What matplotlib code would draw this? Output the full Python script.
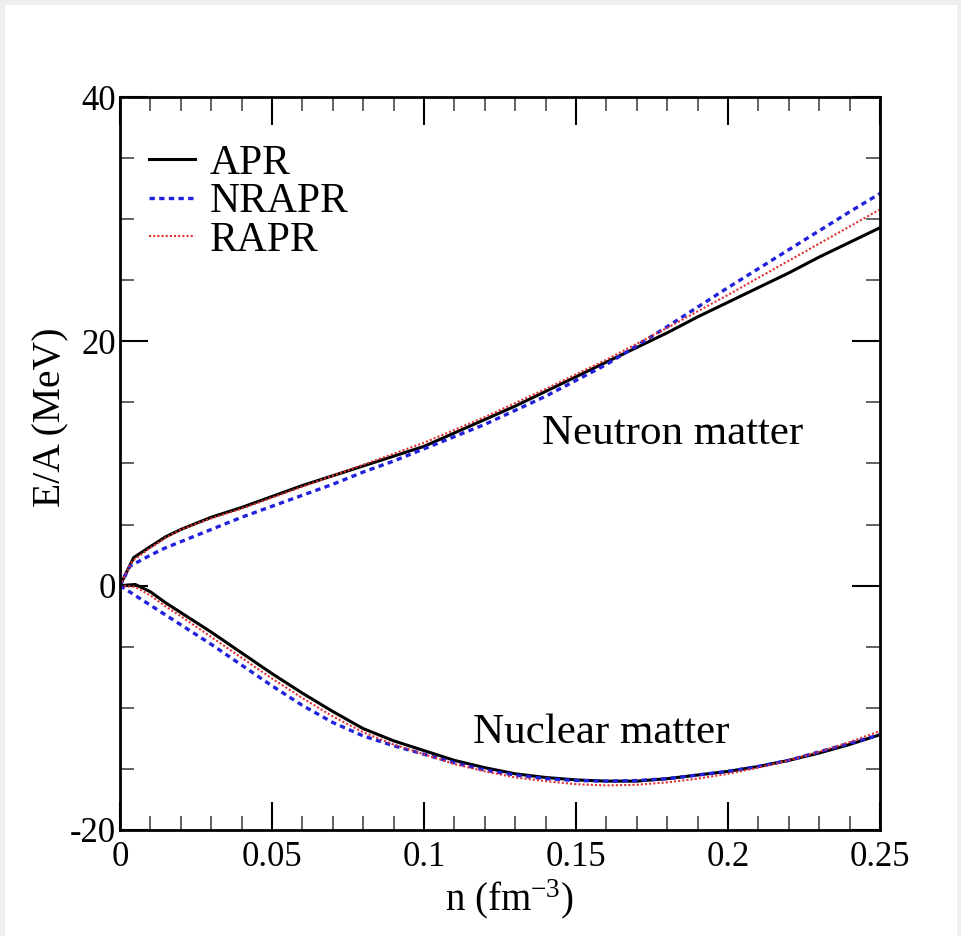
import numpy as np
import matplotlib
matplotlib.use("Agg")
import matplotlib.pyplot as plt
from matplotlib.patches import Rectangle
from matplotlib.ticker import MultipleLocator

plt.rcParams['font.family'] = ['Liberation Serif', 'DejaVu Serif']
plt.rcParams['mathtext.fontset'] = 'custom'
plt.rcParams['mathtext.rm'] = 'Liberation Serif'
plt.rcParams['mathtext.it'] = 'Liberation Serif:italic'

# ---- data ----
n_neut_apr = [0, 0.0045, 0.01, 0.015, 0.02, 0.025, 0.03, 0.04, 0.05, 0.06, 0.07, 0.08, 0.09, 0.10,
              0.11, 0.12, 0.13, 0.14, 0.15, 0.16, 0.17, 0.18, 0.19, 0.20, 0.21, 0.22,
              0.23, 0.24, 0.25]
e_neut_apr = [0, 2.3, 3.2, 4.0, 4.6, 5.1, 5.6, 6.4, 7.3, 8.2, 9.0, 9.8, 10.6, 11.4,
              12.5, 13.6, 14.7, 15.9, 17.1, 18.3, 19.5, 20.7, 22.0, 23.2, 24.4, 25.6,
              26.9, 28.1, 29.3]

n_neut_nrapr = [0, 0.0033, 0.01, 0.015, 0.02, 0.03, 0.04, 0.05, 0.06, 0.07, 0.08, 0.09, 0.10,
                0.12, 0.14, 0.16, 0.18, 0.20, 0.22, 0.24, 0.25]
e_neut_nrapr = [0, 1.6, 2.5, 3.1, 3.6, 4.6, 5.6, 6.5, 7.4, 8.3, 9.3, 10.2, 11.2,
                13.2, 15.5, 18.1, 21.2, 24.4, 27.5, 30.6, 32.1]

n_neut_rapr = [0, 0.004, 0.01, 0.015, 0.02, 0.03, 0.04, 0.05, 0.06, 0.08, 0.10, 0.12,
               0.14, 0.16, 0.18, 0.20, 0.22, 0.24, 0.25]
e_neut_rapr = [0, 2.0, 3.1, 3.9, 4.6, 5.5, 6.3, 7.2, 8.1, 9.9, 11.7, 13.8,
               16.1, 18.5, 21.1, 23.8, 26.6, 29.4, 30.8]

n_nuc = [0, 0.005, 0.01, 0.015, 0.02, 0.03, 0.04, 0.05, 0.06, 0.07, 0.08, 0.09, 0.10,
         0.11, 0.12, 0.13, 0.14, 0.15, 0.16, 0.17, 0.18, 0.19, 0.20, 0.21, 0.22,
         0.23, 0.24, 0.25]
e_nuc_apr = [0, 0.1, -0.5, -1.4, -2.2, -3.8, -5.5, -7.2, -8.8, -10.3, -11.7, -12.7, -13.5,
             -14.3, -14.9, -15.4, -15.7, -15.9, -16.0, -16.0, -15.8, -15.5, -15.2, -14.8, -14.3,
             -13.7, -13.0, -12.2]
e_nuc_nrapr = [0, -0.8, -1.6, -2.4, -3.2, -4.8, -6.5, -8.2, -9.8, -11.2, -12.3, -13.1, -13.8,
               -14.5, -15.1, -15.5, -15.8, -15.95, -16.0, -15.95, -15.8, -15.5, -15.2, -14.8, -14.3,
               -13.6, -12.9, -12.2]
e_nuc_rapr = [0, -0.1, -0.8, -1.7, -2.5, -4.2, -5.9, -7.6, -9.2, -10.7, -12.0, -13.0, -13.8,
              -14.6, -15.2, -15.7, -16.0, -16.25, -16.35, -16.3, -16.1, -15.8, -15.4, -14.9, -14.3,
              -13.6, -12.8, -11.9]

labels = ['APR', 'NRAPR', 'RAPR']
x_ticks = [0, 0.05, 0.1, 0.15, 0.2, 0.25]
x_ticklabels = ['0', '0.05', '0.1', '0.15', '0.2', '0.25']
y_ticks = [-20, 0, 20, 40]
y_ticklabels = ['-20', '0', '20', '40']

# ---- figure ----
W, H = 962, 936
fig = plt.figure(figsize=(W / 100, H / 100), dpi=100)
fig.patch.set_facecolor('#efefef')
fig.patches.append(Rectangle((5 / W, 0), 952 / W, 931 / H, transform=fig.transFigure,
                             facecolor='white', edgecolor='none', zorder=-10))

ax = fig.add_axes([120 / W, 1 - 830 / H, 760 / W, 733 / H])
ax.set_zorder(1)

st_apr = dict(color='black', lw=2.2, ls='-')
st_nr = dict(color='#2020dd', lw=2.4, ls=(0, (1.6, 1.3)))
st_r = dict(color='#e03030', lw=1.5, ls=(0, (1, 1)))

ax.plot(n_neut_apr, e_neut_apr, **st_apr, label=labels[0])
ax.plot(n_neut_nrapr, e_neut_nrapr, **st_nr, label=labels[1])
ax.plot(n_neut_rapr, e_neut_rapr, **st_r, label=labels[2])
ax.plot(n_nuc, e_nuc_apr, **st_apr)
ax.plot(n_nuc, e_nuc_nrapr, **st_nr)
ax.plot(n_nuc, e_nuc_rapr, **st_r)

ax.set_xlim(0, 0.25)
ax.set_ylim(-20, 40)
ax.set_xticks(x_ticks)
ax.set_xticklabels(x_ticklabels)
ax.set_yticks(y_ticks)
ax.set_yticklabels(y_ticklabels)
ax.xaxis.set_minor_locator(MultipleLocator(0.01))
ax.yaxis.set_minor_locator(MultipleLocator(5))
ax.tick_params(which='both', direction='in', top=True, right=True, labelsize=25)
ax.tick_params(which='major', length=20, width=1.5)
ax.tick_params(which='minor', length=10, width=1.3, color='#555555')
ax.tick_params(axis='x', pad=8)
ax.tick_params(axis='y', pad=3)
for s in ax.spines.values():
    s.set_linewidth(2)

ax.set_xlabel('n (fm$^{-3}$)', fontsize=28, labelpad=2)
ax.xaxis.label.set_x(0.513)
ax.set_ylabel('E/A (MeV)', fontsize=28.5, labelpad=0)
ax.yaxis.label.set_y(0.563)

ax.text(0.1388, 12.4, 'Neutron matter', fontsize=31, va='center', ha='left')
ax.text(0.1161, -12.0, 'Nuclear matter', fontsize=31, va='center', ha='left')

ax.legend(loc='upper left', bbox_to_anchor=(0.0, 0.975), frameon=False, fontsize=30,
          handlelength=1.1, handletextpad=0.35, labelspacing=0.0, borderpad=0.2)

fig.savefig('out.png', dpi=100, facecolor=fig.get_facecolor())
